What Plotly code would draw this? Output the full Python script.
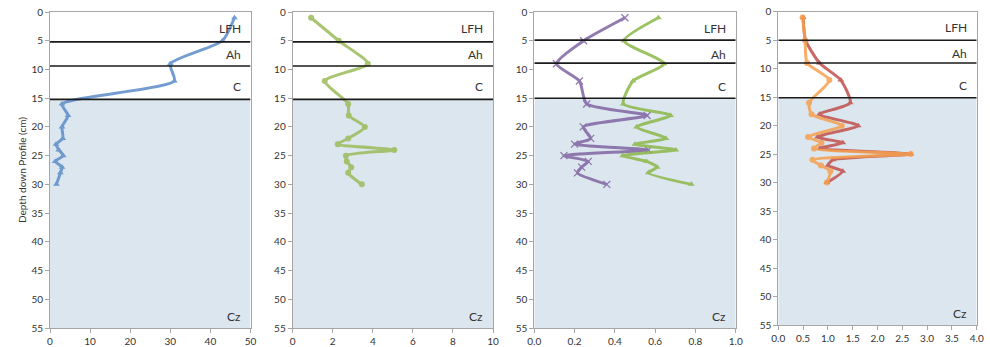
import plotly.graph_objects as go

# Sample depths (cm below surface)
depth = [1, 5, 9, 12, 16, 18, 20, 22, 23, 24, 25, 26, 27, 28, 30]

# Measured profiles
blue_vals = [46, 43, 30, 31, 3.0, 4.5, 3.0, 3.2, 1.5, 2.2, 3.3, 1.3, 3.0, 2.6, 1.6]
green_vals = [0.92, 2.3, 3.75, 1.6, 2.77, 2.8, 3.6, 2.77, 2.25, 5.07, 2.66, 2.7, 2.92, 2.77, 3.45]
purple_vals = [0.45, 0.245, 0.11, 0.224, 0.26, 0.56, 0.243, 0.28, 0.2, 0.566, 0.147, 0.268, 0.235, 0.214, 0.36]
lime_vals = [0.616, 0.445, 0.644, 0.49, 0.442, 0.677, 0.508, 0.654, 0.5, 0.703, 0.439, 0.558, 0.61, 0.566, 0.78]
red_vals = [0.5, 0.55, 0.83, 1.26, 1.45, 0.83, 1.61, 0.79, 1.3, 0.84, 2.67, 1.1, 1.0, 1.3, 0.98]
orange_vals = [0.49, 0.54, 0.58, 1.03, 0.62, 0.67, 1.28, 0.6, 0.87, 0.72, 2.67, 0.69, 0.86, 1.05, 0.98]

# Horizon boundaries drawn on each panel
horizons = ["LFH", "Ah", "C", "Cz"]
horizon_label_depth = [2.8, 7.4, 13.0, 53.0]
bounds_a = [5.2, 9.4, 15.2]
bounds_b = [5.2, 9.4, 15.2]
bounds_c = [4.9, 8.9, 15.0]
bounds_d = [5.0, 9.0, 15.1]

x_ranges = [[0, 50], [0, 10], [0, 1], [0, 4]]
x_dticks = [10, 2, 0.2, 0.5]
x_formats = ["d", "d", ".1f", ".1f"]
depth_max = 55

W, H = 990, 347
# plot-area pixel boxes (left, right, top, bottom)
boxes = [
    (50, 250.5, 12, 328),
    (292.7, 493, 12, 328),
    (534.3, 735.7, 12, 328),
    (778.3, 976.7, 11.7, 325),
]

FONT = "Lato"
fig = go.Figure()

series = [
    (1, blue_vals, "#5B8DC9", "triangle-up"),
    (2, green_vals, "#9BBB59", "circle"),
    (3, purple_vals, "#8064A2", "x-thin-open"),
    (3, lime_vals, "#8DB84A", "triangle-up"),
    (4, red_vals, "#C0504D", "triangle-up"),
    (4, orange_vals, "#F5A04E", "circle"),
]

for idx, vals, col, sym in series:
    suffix = "" if idx == 1 else str(idx)
    mk = dict(symbol=sym, size=6, color=col)
    if sym == "x-thin-open":
        mk = dict(symbol=sym, size=7, color=col, line=dict(color=col, width=1.3))
    fig.add_trace(go.Scatter(
        x=vals, y=depth, mode="lines+markers",
        line=dict(color=col, width=3, shape="spline", smoothing=0.6),
        marker=mk, opacity=0.85, showlegend=False,
        xaxis="x" + suffix, yaxis="y" + suffix, cliponaxis=False,
    ))

shapes = []
annotations = []
all_bounds = [bounds_a, bounds_b, bounds_c, bounds_d]
for i, (l, r, t, b) in enumerate(boxes):
    n = i + 1
    suffix = "" if n == 1 else str(n)
    xr = x_ranges[i]
    bnd = all_bounds[i]
    xd = [l / W, r / W]
    yd = [1 - b / H, 1 - t / H]
    fig.layout["xaxis" + suffix] = dict(
        domain=xd, range=xr, dtick=x_dticks[i], tick0=0, tickformat=x_formats[i],
        showline=True, linecolor="#A6A6A6", mirror=True, ticks="outside",
        ticklen=4, tickcolor="#A6A6A6", showgrid=False, zeroline=False,
        anchor="y" + suffix, tickfont=dict(family=FONT, size=10, color="#333"),
        automargin=False, fixedrange=True,
    )
    fig.layout["yaxis" + suffix] = dict(
        domain=yd, range=[depth_max, 0], dtick=5, tick0=0,
        showline=True, linecolor="#A6A6A6", mirror=True, ticks="outside",
        ticklen=4, tickcolor="#A6A6A6", showgrid=False, zeroline=False,
        anchor="x" + suffix, tickfont=dict(family=FONT, size=10, color="#333"),
        automargin=False, fixedrange=True,
    )
    # Cz shading below the C horizon
    shapes.append(dict(type="rect", xref="x" + suffix, yref="y" + suffix,
                       x0=xr[0], x1=xr[1], y0=bnd[2], y1=depth_max,
                       fillcolor="#DCE6EE", line=dict(width=0), layer="below"))
    for dv in bnd:
        shapes.append(dict(type="line", xref="x" + suffix, yref="y" + suffix,
                           x0=xr[0], x1=xr[1], y0=dv, y1=dv,
                           line=dict(color="#1a1a1a", width=1.6), layer="above"))
    for name, dv in zip(horizons, horizon_label_depth):
        annotations.append(dict(text=name, x=xr[1], y=dv, xref="x" + suffix,
                                yref="y" + suffix, xanchor="right", yanchor="middle",
                                xshift=-8, showarrow=False,
                                font=dict(family=FONT, size=12, color="#333")))

annotations.append(dict(text="Depth down Profile (cm)", x=14 / W, y=1 - 170 / H,
                        xref="paper", yref="paper", textangle=-90, showarrow=False,
                        font=dict(family=FONT, size=10, color="#333")))

fig.update_layout(
    width=W, height=H, margin=dict(l=0, r=0, t=0, b=0),
    paper_bgcolor="white", plot_bgcolor="white",
    shapes=shapes, annotations=annotations, showlegend=False,
)

fig.write_html("out.html", config={"displayModeBar": False})
